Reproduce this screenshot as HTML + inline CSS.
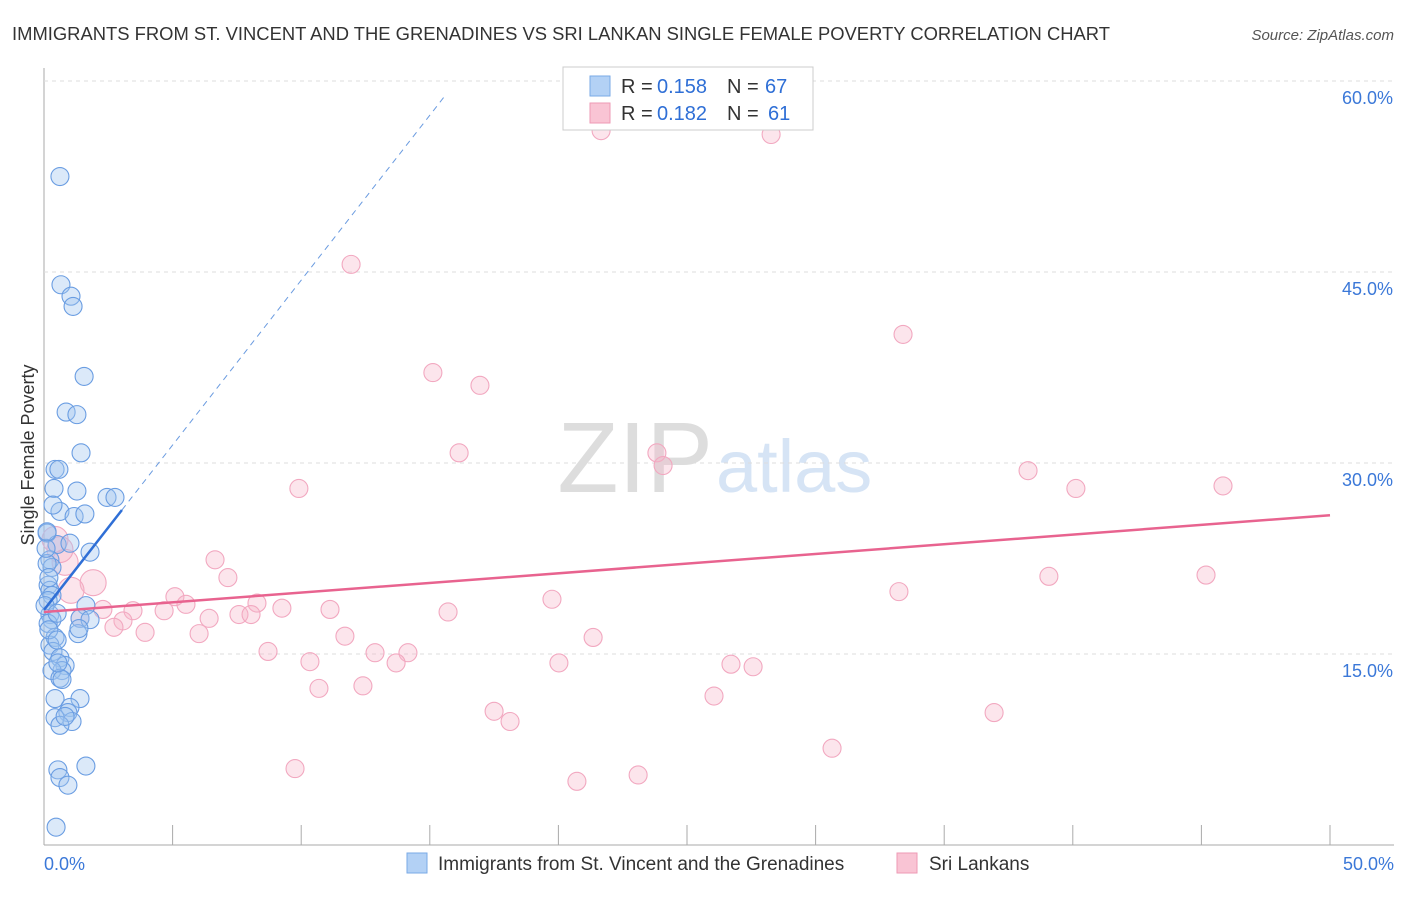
<!DOCTYPE html>
<html><head><meta charset="utf-8"><style>
body{margin:0;background:#fff;font-family:"Liberation Sans",sans-serif;}
svg text{font-family:"Liberation Sans",sans-serif;}
</style></head><body>
<svg id="chart" width="1406" height="892">
<text x="12" y="40" font-size="18" fill="#333" textLength="1098" lengthAdjust="spacingAndGlyphs">IMMIGRANTS FROM ST. VINCENT AND THE GRENADINES VS SRI LANKAN SINGLE FEMALE POVERTY CORRELATION CHART</text>
<text x="1394" y="40" font-size="15" fill="#555" font-style="italic" text-anchor="end">Source: ZipAtlas.com</text>
<text x="713" y="492" font-size="100" fill="#ddd" text-anchor="end" font-family="Liberation Serif">ZIP</text>
<text x="716" y="492" font-size="74" fill="#d6e4f5">atlas</text>
<text transform="translate(34,455) rotate(-90)" font-size="18" fill="#333" text-anchor="middle">Single Female Poverty</text>
<g id="grid"></g><g id="pts"></g><g id="lines"></g>
<g>
<rect x="563" y="67" width="250" height="63" fill="#fff" stroke="#ccc"/>
<rect x="590" y="76" width="20" height="20" fill="#b3d1f5" stroke="#7aaae6"/>
<rect x="590" y="103" width="20" height="20" fill="#f9c4d4" stroke="#ee9ab5"/>
<text x="621" y="93" font-size="20" fill="#333">R =</text>
<text x="657" y="93" font-size="20" fill="#2f6fd6">0.158</text>
<text x="727" y="93" font-size="20" fill="#333">N =</text>
<text x="765" y="93" font-size="20" fill="#2f6fd6">67</text>
<text x="621" y="120" font-size="20" fill="#333">R =</text>
<text x="657" y="120" font-size="20" fill="#2f6fd6">0.182</text>
<text x="727" y="120" font-size="20" fill="#333">N =</text>
<text x="768" y="120" font-size="20" fill="#2f6fd6">61</text>
</g>
<g>
<rect x="407" y="853" width="20" height="20" fill="#b3d1f5" stroke="#7aaae6"/>
<text x="438" y="870" font-size="19" fill="#333">Immigrants from St. Vincent and the Grenadines</text>
<rect x="897" y="853" width="20" height="20" fill="#f9c4d4" stroke="#ee9ab5"/>
<text x="929" y="870" font-size="19" fill="#333">Sri Lankans</text>
</g>
</svg>
<script>
const yTicks=[15,30,45,60];
const yTickLabels=["15.0%","30.0%","45.0%","60.0%"];
const blueX=[0.62,0.66,1.05,1.13,1.56,0.86,1.28,1.44,0.43,0.58,0.39,1.28,2.45,2.76,0.62,1.17,1.59,0.12,0.51,1.01,1.79,0.23,0.31,0.12,0.16,0.23,0.31,1.63,1.4,1.79,0.23,0.31,0.16,0.43,1.32,0.23,0.35,0.62,0.82,0.7,0.31,0.62,1.4,0.43,1.01,0.93,1.09,0.43,0.62,0.54,1.63,0.62,0.93,0.47,0.16,0.19,0.51,0.08,0.19,0.7,0.82,0.12,0.35,0.54,0.04,0.51,1.36];
const blueY=[52.5,44.0,43.1,42.3,36.8,34.0,33.8,30.8,29.5,29.5,28.0,27.8,27.3,27.3,26.2,25.8,26.0,24.5,23.6,23.7,23.0,22.4,21.8,22.1,20.4,20.0,19.6,18.8,17.8,17.7,18.1,17.7,17.4,16.3,16.6,15.7,15.2,14.7,14.1,13.7,13.7,13.1,11.5,11.5,10.8,10.4,9.7,10.0,9.4,5.9,6.2,5.3,4.7,1.4,19.2,16.9,16.1,23.3,21.0,13.0,10.1,24.6,26.7,14.3,18.8,18.2,17.0];
const pinkX=[21.66,28.27,11.94,33.4,15.12,16.95,16.14,23.83,24.07,9.91,38.26,40.12,45.84,0.43,6.65,0.82,7.15,1.91,1.05,5.09,5.52,8.28,39.07,45.18,33.24,19.75,3.46,2.29,4.67,9.25,11.12,15.71,1.4,3.07,6.42,7.58,8.05,2.72,3.93,6.03,11.7,21.35,8.71,12.87,14.15,10.34,13.69,20.02,26.71,27.57,10.69,12.4,26.05,17.5,18.12,36.94,30.64,9.76,20.72,23.1,0.62];
const pinkY=[56.1,55.8,45.6,40.1,37.1,36.1,30.8,30.8,29.8,28.0,29.4,28.0,28.2,24.0,22.4,22.2,21.0,20.6,20.0,19.5,18.9,19.0,21.1,21.2,19.9,19.3,18.4,18.5,18.4,18.6,18.5,18.3,17.8,17.6,17.8,18.1,18.1,17.1,16.7,16.6,16.4,16.3,15.2,15.1,15.1,14.4,14.3,14.3,14.2,14.0,12.3,12.5,11.7,10.5,9.7,10.4,7.6,6.0,5.0,5.5,23.2];
const blueTrend=[18.46,2.59]; // intercept, slope
const pinkTrend=[18.3,0.152];
const sx=v=>44+v*25.72, sy=v=>845-v*12.733;
const NS="http://www.w3.org/2000/svg";
function mk(tag,parent,attrs){const e=document.createElementNS(NS,tag);for(const k in attrs)e.setAttribute(k,attrs[k]);document.getElementById(parent).appendChild(e);return e;}
let e=mk('line','grid',{x1:44,y1:68,x2:44,y2:845,stroke:'#aaa'});


e=mk('line','grid',{x1:44,y1:845,x2:1394,y2:845,stroke:'#aaa'});


yTicks.forEach((t,i)=>{
 let g=mk('line','grid',{x1:44,y1:sy(t),x2:1394,y2:sy(t),stroke:'#ddd','stroke-dasharray':'4,4'});
 
 
 let tx=mk('text','grid',{x:1393,y:sy(t)+23,'font-size':18,fill:'#3b78d8','text-anchor':'end'});
 tx.textContent=yTickLabels[i];
 
 
});
for(let i=1;i<=10;i++){let t=mk('line','grid',{x1:sx(i*5),y1:825,x2:sx(i*5),y2:845,stroke:'#aaa'});
 
 }
let l0=mk('text','grid',{x:44,y:870,'font-size':18,fill:'#3b78d8'});l0.textContent='0.0%';


let l1=mk('text','grid',{x:1394,y:870,'font-size':18,fill:'#3b78d8','text-anchor':'end'});l1.textContent='50.0%';


pinkX.forEach((x,i)=>{const c=mk('circle','pts',{cx:sx(x),cy:sy(pinkY[i]),r:(x<2.5&&pinkY[i]>19&&pinkY[i]<25)?13:9,fill:'rgba(247,180,200,0.35)',stroke:'#f2a8c0','stroke-width':1.1});
 
 });
blueX.forEach((x,i)=>{const c=mk('circle','pts',{cx:sx(x),cy:sy(blueY[i]),r:9,fill:'rgba(160,196,240,0.38)',stroke:'#6a9de2','stroke-width':1.1});
 
 });
const bx1=3.03,bx2=15.6;
e=mk('line','lines',{x1:sx(0),y1:sy(blueTrend[0]),x2:sx(bx1),y2:sy(blueTrend[0]+blueTrend[1]*bx1),stroke:'#2f6fd6','stroke-width':2.5});


e=mk('line','lines',{x1:sx(bx1),y1:sy(blueTrend[0]+blueTrend[1]*bx1),x2:sx(bx2),y2:sy(blueTrend[0]+blueTrend[1]*bx2),stroke:'#6a9be0','stroke-width':1,'stroke-dasharray':'6,5'});


e=mk('line','lines',{x1:sx(0),y1:sy(pinkTrend[0]),x2:sx(50),y2:sy(pinkTrend[0]+pinkTrend[1]*50),stroke:'#e8638f','stroke-width':2.5});


</script>
</body></html>
